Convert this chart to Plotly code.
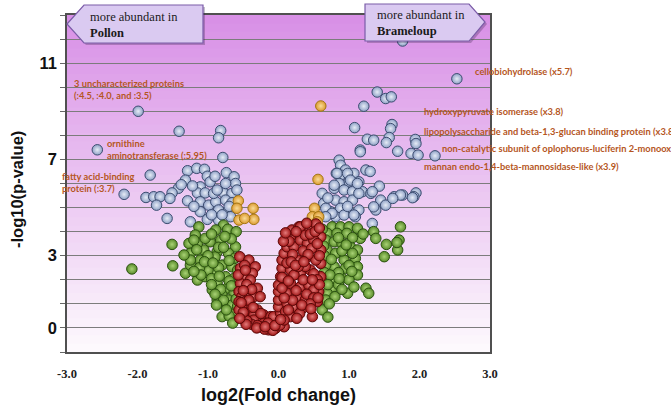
import plotly.graph_objects as go

# ---------------- data ----------------
blue_x = [-1.99, -1.41, -0.82, -0.85, -0.79, -2.57, -1.82, -2.19,
          -1.29, -1.16, -1.05, -1.01, -1.32, -0.97, -0.74, -0.63, -0.61, -1.42, -1.11, -1.15,
          -1.04, -0.78, -0.66, -1.51, -1.88, -1.77, -1.68, -1.54, -1.73, -1.29, -1.11, -0.99,
          -0.89, -0.75, -0.66, -1.11, -0.85, -0.71, -1.58, -1.25, -1.01, -0.85, -0.68, -0.92,
          -0.87, -0.75, -0.59, -0.70, -0.95, -0.80, -1.20, -1.38, -0.90, -1.22,
          1.76, 2.53, 1.40, 1.52, 1.60, 1.21, 1.08, 1.61, 1.59, 1.26, 1.35, 1.57, 1.53, 1.94,
          1.95, 1.16, 1.69, 1.88, 1.98, 2.22, 0.86, 0.88, 0.95, 0.88, 1.07, 1.24, 1.30, 1.00,
          1.14, 0.86, 0.79, 0.93, 1.05, 1.19, 1.31, 0.62, 0.64, 0.81, 0.93, 1.05, 0.74, 0.88,
          1.00, 1.14, 0.81, 1.09, 1.16, 1.33, 1.43, 1.33, 1.14, 1.64, 1.76, 1.95, 1.92, 1.45,
          1.38, 1.52, 0.67, 0.76, 0.93, 1.07, 0.67, 0.82, 1.35, 1.73, 1.62, 1.90, 0.83, 0.98,
          1.02, 1.12, 0.79, 0.70, 0.98]
blue_y = [9.00, 8.17, 8.20, 7.90, 7.08, 7.40, 6.35, 5.55,
          6.53, 6.63, 6.59, 6.30, 6.14, 6.07, 6.45, 6.28, 6.00, 5.80, 5.86, 5.61,
          5.61, 5.61, 5.59, 5.61, 5.42, 5.45, 5.45, 5.38, 5.10, 5.28, 5.24, 5.10,
          5.24, 5.31, 5.20, 4.83, 4.90, 4.90, 4.55, 4.41, 4.51, 4.48, 4.62, 5.59,
          5.73, 6.00, 5.73, 5.05, 4.70, 4.70, 5.05, 5.95, 6.30, 5.90,
          11.92, 10.35, 9.80, 9.53, 9.60, 9.21, 8.32, 8.45, 8.28, 7.84, 7.80, 7.91, 7.70, 7.83,
          7.66, 7.39, 7.34, 7.25, 7.18, 7.15, 6.97, 6.76, 6.56, 6.35, 6.42, 6.56, 6.50, 6.07,
          6.07, 6.00, 5.80, 5.73, 5.66, 5.66, 5.59, 5.59, 5.17, 5.31, 5.24, 5.31, 4.83, 4.97,
          4.83, 4.90, 4.62, 4.62, 7.32, 4.34, 5.89, 5.66, 5.59, 5.45, 5.52, 5.61, 5.45, 5.31,
          4.90, 5.10, 4.97, 4.76, 4.69, 4.69, 4.62, 6.42, 5.03, 5.52, 5.38, 5.41, 6.42, 6.42,
          6.14, 6.00, 5.93, 5.40, 5.05]

orange_x = [0.60, 0.56, 0.51, 0.48, 0.57, 0.55, -0.57, -0.36, -0.35, -0.56, -0.48, -0.59]
orange_y = [9.22, 6.17, 4.97, 4.62, 4.62, 4.41, 5.28, 4.97, 4.51, 4.48, 4.55, 4.97]

green_x = [-2.08, -1.51, -1.50, -1.32, -1.15, -1.13, -1.18, -1.27, -1.25, -1.25, -1.11, -1.04,
           -0.94, -0.87, -0.80, -0.68, -0.63, -0.78, -0.89, -0.68, -0.97, -0.82, -0.61, -1.06,
           -0.87, -0.71, -0.99, -0.80, -0.66, -0.92, -0.75, -0.63, -0.87, -0.73, -0.63, -0.80,
           -0.71, -0.75, -0.66, -0.61, -1.25, -1.34, -1.15, -1.04, -1.20, -0.95, -0.72, -0.60,
           -0.62, -0.90, -1.00, -1.12, -0.95, -0.85, -0.70, -0.60, -0.95, -0.82, -0.70, -0.60,
           -0.78, -0.90, -0.70, -0.65, -0.85, -1.00, -0.78, -1.10, -1.20, -0.67, -0.58, -0.58,
           -1.05, -0.93, -0.76, -1.16, -0.84, -0.67, -0.74, -0.88,
           0.76, 0.88, 1.00, 1.12, 0.69, 0.83, 0.97, 1.16, 0.67, 0.79, 0.90, 1.02, 1.12, 1.35,
           1.38, 1.73, 1.71, 1.69, 1.53, 1.50, 0.69, 0.81, 0.93, 1.09, 1.12, 0.95, 0.79, 0.67,
           1.12, 0.90, 0.76, 0.69, 0.98, 1.24, 1.28, 0.76, 0.69, 0.67, 0.62, 0.65, 0.65, 0.85,
           1.00, 1.05, 0.90, 0.75, 0.62, 0.85, 1.00, 1.07, 0.80, 0.90, 0.64, 0.62, 0.85, 1.05,
           1.20, 0.72, 1.68, 0.70, 0.73, 0.86, 0.96, 0.70, 1.04]
green_y = [2.45, 3.47, 2.58, 2.27, 1.99, 4.20, 3.86, 3.51, 3.10, 2.61, 2.82, 2.13,
           1.58, 1.16, 0.47, 0.75, 0.33, 4.27, 4.07, 3.93, 3.58, 3.65, 3.37, 3.24,
           3.17, 3.10, 2.68, 2.61, 2.54, 2.34, 2.13, 2.06, 1.85, 1.65, 1.44, 1.37,
           1.16, 0.95, 0.95, 0.61, 2.82, 3.03, 3.51, 3.72, 3.65, 3.90, 4.10, 4.00,
           2.90, 2.95, 2.40, 2.50, 2.05, 2.50, 2.80, 1.80, 1.80, 1.60, 1.95, 1.20,
           1.15, 1.40, 0.50, 0.20, 3.35, 3.00, 3.35, 2.20, 2.35, 3.70, 2.40, 0.90,
           2.75, 2.70, 3.80, 3.25, 2.15, 1.75, 0.75, 0.95,
           4.20, 4.20, 4.20, 4.14, 3.93, 3.93, 3.93, 3.72, 3.65, 3.58, 3.51, 3.37, 3.24, 4.00,
           3.72, 4.20, 3.65, 3.24, 3.47, 2.96, 3.24, 3.10, 2.82, 2.89, 2.54, 2.48, 2.54, 2.61,
           2.20, 2.06, 1.99, 2.10, 1.44, 1.65, 1.44, 1.65, 1.44, 1.16, 0.75, 3.00, 2.30, 2.30,
           2.60, 3.10, 3.20, 2.85, 1.90, 1.80, 2.00, 1.70, 1.30, 1.60, 3.40, 4.10, 3.75, 3.75,
           3.90, 1.00, 3.55, 0.45, 2.20, 2.05, 3.45, 1.80, 2.35]

red_x = [-0.55, -0.42, -0.33, -0.54, -0.49, -0.37, -0.40, -0.54, -0.45, -0.30, -0.56, -0.44,
         -0.52, -0.35, -0.26, -0.56, -0.47, -0.42, -0.52, -0.56, -0.30, -0.44, -0.49, -0.35,
         -0.21, -0.28, -0.35, -0.16, -0.21, -0.11, -0.11, -0.26, -0.14, -0.04, 0.08, -0.02,
         -0.07, -0.38, -0.45, -0.30, -0.20, -0.08, 0.02, -0.50, -0.38, -0.48, -0.50, -0.42,
         -0.36, -0.25, -0.15, -0.57, -0.47, -0.53, -0.46, -0.55, -0.31, -0.19, -0.05,
         0.03, 0.00, 0.00, 0.00, 0.00, 0.03, 0.05, 0.05, 0.08, 0.12, 0.17, 0.19, 0.29, 0.43,
         0.53, 0.31, 0.60, 0.60, 0.60, 0.60, 0.57, 0.55, 0.48, 0.22, 0.31, 0.41, 0.50, 0.27,
         0.41, 0.53, 0.17, 0.31, 0.45, 0.17, 0.31, 0.43, 0.50, 0.12, 0.27, 0.38, 0.12, 0.22,
         0.34, 0.10, 0.17, 0.08, 0.10, 0.12, 0.20, 0.35, 0.47, 0.55, 0.38, 0.25, 0.45, 0.22,
         0.38, 0.50, 0.55, 0.25, 0.40, 0.50, 0.58, 0.45, 0.30, 0.20, 0.08, 0.14, 0.35, 0.05,
         0.58, 0.15, 0.42, 0.28, 0.18, 0.52, 0.05, 0.40, 0.58, 0.03, 0.07, 0.10, 0.24, 0.36,
         0.48, 0.56, 0.14, 0.33, 0.46, 0.26]
red_y = [2.96, 2.82, 2.54, 2.48, 2.13, 2.27, 1.99, 1.85, 1.80, 1.65, 1.51, 1.37,
         1.30, 1.30, 1.30, 1.09, 1.10, 0.95, 0.88, 0.75, 0.75, 0.61, 0.47, 0.54,
         0.54, 0.33, 0.33, 0.33, 0.19, 0.12, 0.47, 0.05, -0.08, -0.01, 0.05, 0.26,
         0.47, 0.15, 0.30, 0.10, -0.05, -0.10, 0.12, 0.65, 1.60, 2.60, 1.55, 1.15,
         0.85, 0.60, 0.20, 2.20, 2.40, 1.05, 0.15, 0.40, 0.00, 0.05, 0.10,
         0.61, 0.88, 1.16, 1.51, 1.78, 2.13, 2.48, 2.82, 3.10, 3.37, 3.79, 4.07, 4.20, 4.14,
         4.32, 4.20, 3.79, 3.24, 2.68, 2.13, 1.51, 1.09, 0.47, 3.37, 3.65, 3.51, 3.65, 2.82,
         2.96, 2.82, 2.41, 2.27, 2.41, 1.85, 1.71, 1.78, 1.58, 1.44, 1.23, 1.16, 1.02, 0.88,
         0.82, 0.68, 0.47, 0.33, 2.00, 2.70, 3.05, 3.20, 3.30, 3.50, 3.85, 4.00, 3.90, 2.20,
         2.55, 2.25, 2.00, 1.55, 1.40, 1.25, 1.80, 1.00, 0.60, 1.15, 1.25, 0.75, 2.00, 1.65,
         3.00, 3.60, 3.05, 2.55, 2.75, 4.00, 2.10, 4.35, 4.15, 0.35, 3.60, 3.95, 2.60, 2.75,
         2.00, 1.25, 1.95, 0.95, 0.80, 0.40]

x_ticks = [-3, -2, -1, 0, 1, 2, 3]
x_ticktext = ["-3.0", "-2.0", "-1.0", "0.0", "1.0", "2.0", "3.0"]
y_ticks = [0, 3, 7, 11]
y_minor = list(range(-1, 14))

left_labels = ["3 uncharacterized proteins<br>(:4.5, :4.0, and :3.5)",
               "ornithine<br>aminotransferase (:5.95)",
               "fatty acid-binding<br>protein (:3.7)"]
right_labels = ["cellobiohydrolase (x5.7)",
                "hydroxypyruvate isomerase (x3.8)",
                "lipopolysaccharide and beta-1,3-glucan binding protein (x3.8)",
                "non-catalytic subunit of oplophorus-luciferin 2-monooxygenase",
                "mannan endo-1,4-beta-mannosidase-like (x3.9)"]
box_texts = ["more abundant in<br><b>Pollon</b>", "more abundant in<br><b>Brameloup</b>"]
x_title = "log2(Fold change)"
y_title = "-log10(p-value)"

# ---------------- layout geometry ----------------
W, H = 671, 411
L, R, T, B = 67, 490, 15, 352


def px(x):
    return (x - L) / (R - L)


def py(y):
    return (B - y) / (B - T)


fig = go.Figure()


def add_series(xs, ys, outer, center, edge):
    fig.add_trace(go.Scatter(
        x=xs, y=ys, mode="markers", showlegend=False, hoverinfo="skip",
        marker=dict(size=10.5, color=outer,
                    gradient=dict(type="radial", color=center),
                    line=dict(color=edge, width=1))))


add_series(blue_x, blue_y, "#8fa1c6", "#e6ecf6", "#3c4d70")
add_series(orange_x, orange_y, "#dc9a30", "#f9dc98", "#a37612")
add_series(green_x, green_y, "#5a8c2b", "#a9d275", "#2b5210")
add_series(red_x, red_y, "#a01616", "#e47a7a", "#5c0808")

shapes = []
# background gradient (purple at top to white at bottom)
top = (216, 143, 230)
bot = (253, 250, 253)
N = 40
for i in range(N):
    t = (i + 0.5) / N
    c = tuple(int(round(bot[k] + (top[k] - bot[k]) * t)) for k in range(3))
    shapes.append(dict(type="rect", xref="paper", yref="paper",
                       x0=0, x1=1, y0=i / N, y1=min(1.0, (i + 1) / N + 0.012),
                       fillcolor="rgb(%d,%d,%d)" % c, line=dict(width=0), layer="below"))


def path(points, dx=0, dy=0):
    s = "M " + " L ".join("%.4f,%.4f" % (px(a + dx), py(b + dy)) for a, b in points) + " Z"
    return s


left_box = [(67, 24), (84, 5), (203, 5), (203, 43), (84, 43)]
right_box = [(365, 4), (469, 4), (485, 22), (469, 41), (365, 41)]
for pts in (left_box, right_box):
    shapes.append(dict(type="path", xref="paper", yref="paper", layer="above",
                       path=path(pts, 2, 2), fillcolor="rgba(60,40,80,0.30)",
                       line=dict(width=0)))
    shapes.append(dict(type="path", xref="paper", yref="paper", layer="above",
                       path=path(pts), fillcolor="#dacaf1",
                       line=dict(color="#7b5ca8", width=1.2)))

annotations = []
lab_font = dict(family="Lato", size=9.3, color="#b5561e", weight="bold")
for txt, x, y in zip(left_labels, [72, 105, 60], [89, 149, 182.5]):
    annotations.append(dict(text=txt, x=px(x), y=py(y), xref="paper", yref="paper",
                            xanchor="left", yanchor="middle", align="left",
                            showarrow=False, font=lab_font))
for txt, x, y in zip(right_labels, [473, 422, 422, 440, 422], [72, 112, 131, 148, 166]):
    annotations.append(dict(text=txt, x=px(x), y=py(y), xref="paper", yref="paper",
                            xanchor="left", yanchor="middle", align="left",
                            showarrow=False, font=lab_font))
box_font = dict(family="Liberation Serif", size=12.5, color="#1a1a1a")
for txt, x, y in zip(box_texts, [88, 375], [25, 23]):
    annotations.append(dict(text=txt, x=px(x), y=py(y), xref="paper", yref="paper",
                            xanchor="left", yanchor="middle", align="left",
                            showarrow=False, font=box_font))
annotations.append(dict(text=y_title, x=px(17), y=py(190), xref="paper", yref="paper",
                        xanchor="center", yanchor="middle", textangle=-90, showarrow=False,
                        font=dict(family="Liberation Sans", size=16.5, color="#111", weight="bold")))

fig.update_layout(
    width=W, height=H,
    margin=dict(l=L, r=W - R, t=T, b=H - B, autoexpand=False),
    paper_bgcolor="white", plot_bgcolor="white",
    shapes=shapes, annotations=annotations,
    xaxis=dict(range=[-3, 3], tickvals=x_ticks, ticktext=x_ticktext,
               showgrid=False, zeroline=False, ticks="", ticklabelstandoff=9,
               tickfont=dict(family="Liberation Serif", size=12.5, color="#222", weight="bold"),
               showline=True, mirror=True, linecolor="#505050", linewidth=1.5,
               title=dict(text=x_title, standoff=9,
                          font=dict(family="Liberation Sans", size=18, color="#111", weight="bold"))),
    yaxis=dict(range=[-1, 13], tickvals=y_ticks, zeroline=False,
               showgrid=True, gridcolor="#7c7c7c", gridwidth=1,
               ticks="outside", ticklen=5, tickcolor="#666",
               minor=dict(tickvals=y_minor, showgrid=True, gridcolor="#7c7c7c", gridwidth=1,
                          ticks="outside", ticklen=5, tickcolor="#666"),
               tickfont=dict(family="Liberation Sans", size=16.5, color="#111", weight="bold"),
               showline=True, mirror=True, linecolor="#505050", linewidth=1.5),
)

fig.write_html("out.html", config={"displayModeBar": False},
               post_script="document.body.style.margin='0px';")
